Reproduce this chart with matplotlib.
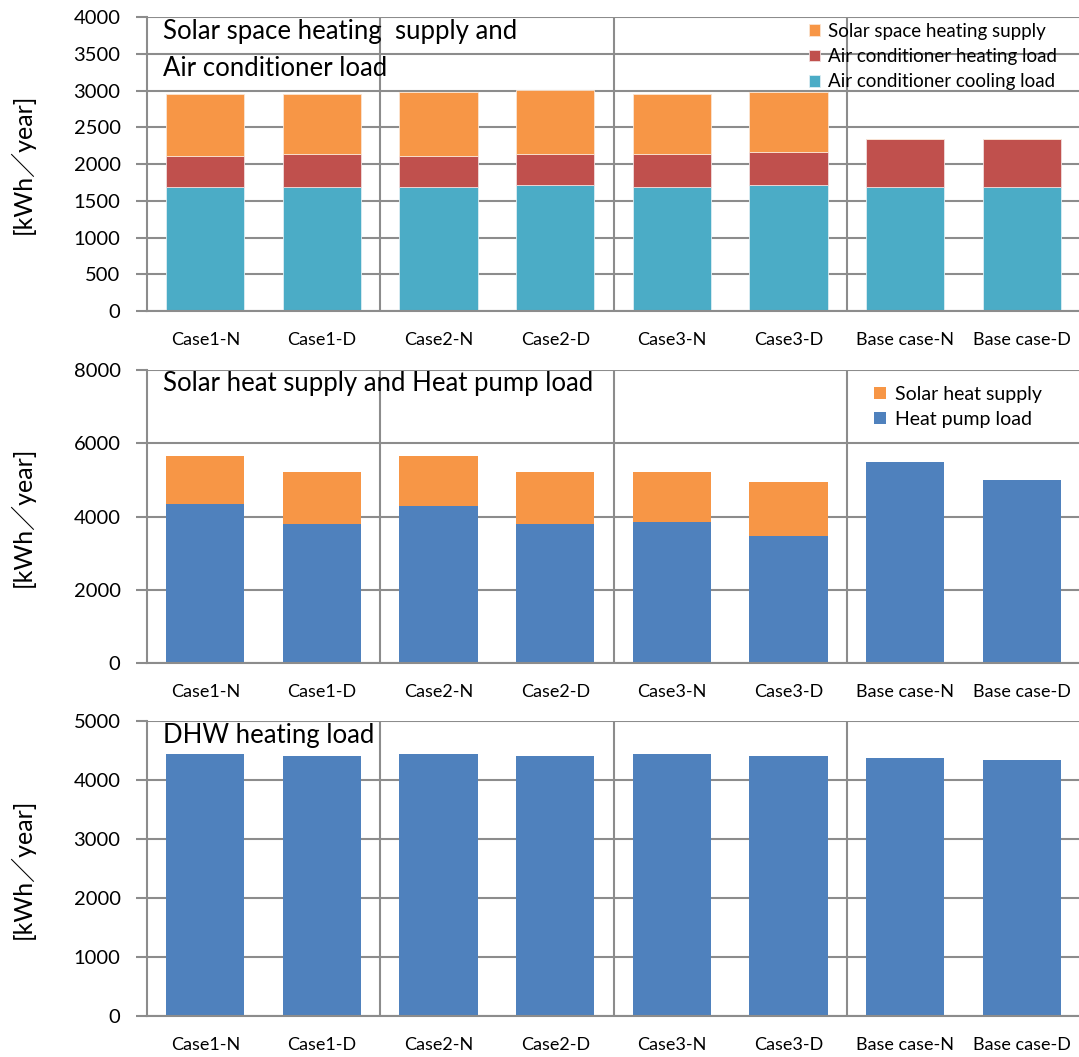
import numpy as np
import matplotlib
matplotlib.use("Agg")
import matplotlib.pyplot as plt

plt.rcParams['font.family'] = ['Lato', 'Noto Sans CJK JP', 'DejaVu Sans']

cases = ["Case1-N", "Case1-D", "Case2-N", "Case2-D",
         "Case3-N", "Case3-D", "Base case-N", "Base case-D"]

# panel 1: air conditioner / solar space heating (kWh/year)
ac_cooling = [1690, 1690, 1690, 1717, 1690, 1717, 1690, 1690]
ac_heating = [425, 452, 425, 425, 452, 452, 647, 647]
solar_space = [841, 814, 868, 868, 814, 814, 0, 0]

# panel 2: heat pump / solar heat supply
hp_load = [4340, 3805, 4294, 3805, 3850, 3479, 5481, 4992]
solar_heat = [1304, 1405, 1350, 1405, 1360, 1459, 0, 0]

# panel 3: DHW heating load
dhw_load = [4445, 4405, 4445, 4405, 4445, 4405, 4371, 4337]

ORANGE = "#F79646"
RED = "#C0504D"
TEAL = "#4BACC6"
BLUE = "#4F81BD"
GRID = "#8C8C8C"

W, H = 1079, 1057
fig = plt.figure(figsize=(W / 100, H / 100), dpi=100)

def px_axes(top, bottom):
    left, right = 147, 1080
    return fig.add_axes([left / W, 1 - bottom / H, (right - left) / W, (bottom - top) / H])

ax1 = px_axes(17, 311)
ax2 = px_axes(370, 663)
ax3 = px_axes(721, 1016)

x = np.arange(len(cases))
bw = 0.67

def style(ax, ymax, step):
    ax.set_xlim(-0.5, 7.5)
    ax.set_ylim(0, ymax)
    ax.set_yticks(np.arange(0, ymax + 1, step))
    ax.set_xticks(x)
    ax.set_xticklabels(cases, fontsize=13)
    ax.tick_params(axis='x', length=0, pad=15)
    ax.tick_params(axis='y', length=8, width=1.5, color=GRID, labelsize=14.5, pad=11)
    for s in ["top", "right"]:
        ax.spines[s].set_visible(False)
    for s in ["left", "bottom"]:
        ax.spines[s].set_color(GRID)
        ax.spines[s].set_linewidth(1.5)
    ax.set_axisbelow(True)
    ax.yaxis.grid(True, color=GRID, linewidth=1.5)
    for b in [1.5, 3.5, 5.5]:
        ax.axvline(b, color=GRID, linewidth=1.5, zorder=0.5)
    fig.text(22 / W, (ax.get_position().y0 + ax.get_position().y1) / 2, "[kWh／year]",
             rotation=90, ha='center', va='center', fontsize=18)

# panel 1
style(ax1, 4000, 500)
b1 = ax1.bar(x, ac_cooling, bw, color=TEAL, edgecolor="#DDEEF3", linewidth=0.6,
             label="Air conditioner cooling load")
b2 = ax1.bar(x, ac_heating, bw, bottom=ac_cooling, color=RED, edgecolor="#F0DCDC",
             linewidth=0.6, label="Air conditioner heating load")
bottom3 = np.array(ac_cooling) + np.array(ac_heating)
b3 = ax1.bar(x, solar_space, bw, bottom=bottom3, color=ORANGE, edgecolor="#FBE5D3",
             linewidth=0.6, label="Solar space heating supply")
ax1.text(0.017, 0.952, "Solar space heating  supply and", transform=ax1.transAxes,
         fontsize=18.5, va='center', ha='left')
ax1.text(0.017, 0.825, "Air conditioner load", transform=ax1.transAxes,
         fontsize=18.5, va='center', ha='left')
ax1.legend([b3, b2, b1], [b3.get_label(), b2.get_label(), b1.get_label()],
           loc='upper left', bbox_to_anchor=(0.703, 1.0), frameon=False, fontsize=13.5,
           borderpad=0, handlelength=0.6, handleheight=0.6, handletextpad=0.45,
           labelspacing=0.45, borderaxespad=0.3)

# panel 2
style(ax2, 8000, 2000)
h1 = ax2.bar(x, hp_load, bw, color=BLUE, label="Heat pump load")
h2 = ax2.bar(x, solar_heat, bw, bottom=hp_load, color=ORANGE, label="Solar heat supply")
ax2.text(0.017, 0.955, "Solar heat supply and Heat pump load", transform=ax2.transAxes,
         fontsize=18.5, va='center', ha='left')
ax2.legend([h2, h1], [h2.get_label(), h1.get_label()],
           loc='upper left', bbox_to_anchor=(0.773, 0.965), frameon=False, fontsize=14,
           borderpad=0, handlelength=0.6, handleheight=0.6, handletextpad=0.5,
           labelspacing=0.4, borderaxespad=0.3)

# panel 3
style(ax3, 5000, 1000)
ax3.bar(x, dhw_load, bw, color=BLUE)
ax3.text(0.017, 0.95, "DHW heating load", transform=ax3.transAxes,
         fontsize=18.5, va='center', ha='left')

fig.savefig("out.png", dpi=100)
